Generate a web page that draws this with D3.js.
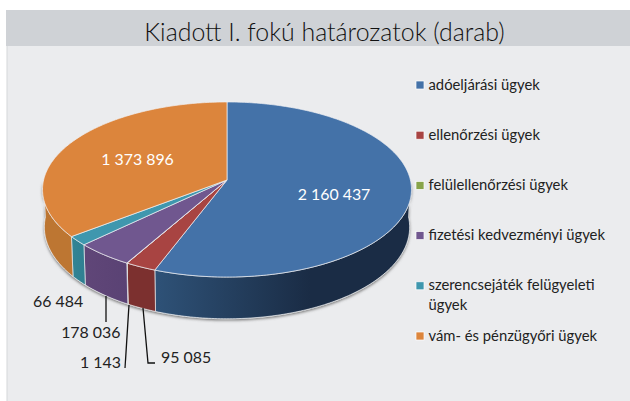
<!DOCTYPE html>
<html><head><meta charset="utf-8">
<script src="https://cdn.jsdelivr.net/npm/d3@7"></script>
<style>html,body{margin:0;padding:0;background:#fff}svg{display:block}text{font-family:Lato,sans-serif;fill:#222}</style>
</head><body><svg id="c" width="630" height="401"></svg>
<script>
const categories=["adóeljárási ügyek","ellenőrzési ügyek","felülellenőrzési ügyek","fizetési kedvezményi ügyek","szerencsejáték felügyeleti ügyek","vám- és pénzügyőri ügyek"];
const values=[2160437,95085,1143,178036,66484,1373896];
const valueLabels=["2 160 437","95 085","1 143","178 036","66 484","1 373 896"];
const topColors=["#4472a8","#a84442","#88a44a","#70578f","#3f97ae","#dc853c"];
const wallLight=["#2f5379","#7c302f","#5f7530","#5a4274","#2f8092","#bd7632"];
const wallDark=["#1a2c45","#7c302f","#5f7530","#604678","#338494","#b56e2e"];
const title="Kiadott I. fokú határozatok (darab)";

const svg=d3.select("#c");
const W=630,H=401;
const cx=227,cy=180,a=183.4,b=86.5,k=0.1086,wall=37.2,wallScale=0.99;
const defs=svg.append("defs");
const den=t=>1+k*Math.cos(t);
const topPt=t=>[cx+a*Math.sin(t)/den(t),cy-b*Math.cos(t)/den(t)];
const botPt=t=>[cx+wallScale*a*Math.sin(t)/den(t),cy-b*Math.cos(t)/den(t)+wall/den(t)];
const line=d3.line();
const steps=(t0,t1)=>{const n=Math.max(2,Math.ceil(Math.abs(t1-t0)/0.015));return d3.range(n+1).map(i=>t0+(t1-t0)*i/n);};

svg.append("rect").attr("x",7).attr("y",46).attr("width",W-7).attr("height",H-46).attr("fill","#ebecee");
svg.append("rect").attr("x",6.5).attr("y",46).attr("width",1).attr("height",H-46).attr("fill","#d5d7da");
svg.append("rect").attr("x",6).attr("y",10).attr("width",W-6).attr("height",36).attr("fill","#cfd2d6");
svg.append("text").attr("x",324.5).attr("y",41).attr("text-anchor","middle").attr("font-size",24.9).attr("font-weight",300).style("fill","#111").text(title);

const arcs=d3.pie().sort(null)(values);
const f=defs.append("filter").attr("id","sh").attr("x","-10%").attr("y","-10%").attr("width","120%").attr("height","130%");
f.append("feGaussianBlur").attr("stdDeviation",1.4);
arcs.forEach((d,i)=>{
  const g=defs.append("linearGradient").attr("id","g"+i).attr("gradientUnits","userSpaceOnUse")
    .attr("x1",i===0?150:topPt(d.startAngle)[0]).attr("x2",i===0?310:topPt(d.endAngle)[0]).attr("y1",0).attr("y2",0);
  g.append("stop").attr("offset",0).attr("stop-color",wallLight[i]);
  g.append("stop").attr("offset",1).attr("stop-color",wallDark[i]);
});
// soft shadow under the rim
const front=steps(Math.PI/2,Math.PI*1.5);
const shadowPts=front.map(botPt).concat(front.slice().reverse().map(topPt));
svg.append("path").attr("d",line(shadowPts)+"Z").attr("transform","translate(0,1.6)").attr("fill","#6f6f6f").attr("filter","url(#sh)");
svg.append("path").attr("d",line(front.map(botPt))).attr("fill","none").attr("stroke","#f4f4f4").attr("stroke-width",0.9);
// walls
arcs.forEach((d,i)=>{
  const t0=Math.max(d.startAngle,Math.PI/2),t1=Math.min(d.endAngle,Math.PI*1.5);
  if(t1<=t0) return;
  const s=steps(t0,t1);
  const pts=s.map(topPt).concat(s.slice().reverse().map(botPt));
  svg.append("path").attr("d",line(pts)+"Z").attr("fill",`url(#g${i})`).attr("stroke","#e9ecef").attr("stroke-width",0.7);
});
// top faces
arcs.forEach((d,i)=>{
  const pts=[[cx,cy]].concat(steps(d.startAngle,d.endAngle).map(topPt));
  svg.append("path").attr("d",line(pts)+"Z").attr("fill",topColors[i]).attr("stroke","#f0f1f3").attr("stroke-width",0.7).attr("stroke-linejoin","round");
});
// value labels
const fs=15.9;
const placed=[[0,334,200,"middle","#fff"],[5,137.5,165,"middle","#fff"],[4,33,307,"start","#222"],[3,120.5,338,"end","#222"],[2,121,368,"end","#222"],[1,161,363,"start","#222"]];
placed.forEach(o=>svg.append("text").attr("x",o[1]).attr("y",o[2]).attr("text-anchor",o[3]).attr("font-size",fs).style("fill",o[4]).text(valueLabels[o[0]]));
const leaders=[[[106,296],[106,322]],[[129,305],[125,368]],[[143,308],[148,363],[155,363]]];
leaders.forEach(l=>svg.append("path").attr("d",line(l)).attr("fill","none").attr("stroke","#111").attr("stroke-width",1.3));
// legend
const legendScale=d3.scalePoint().domain(d3.range(categories.length)).range([85,336]);
categories.forEach((c,i)=>{
  const y=legendScale(i);
  svg.append("rect").attr("x",416).attr("y",y-4).attr("width",8).attr("height",8).attr("fill",topColors[i]).attr("stroke","#fff").attr("stroke-width",0.7);
  const parts=c.startsWith("szerencse")?["szerencsejáték felügyeleti","ügyek"]:[c];
  parts.forEach((t,j)=>svg.append("text").attr("x",428.5).attr("y",y+4.5+j*20).attr("font-size",14.8).text(t));
});
</script></body></html>
